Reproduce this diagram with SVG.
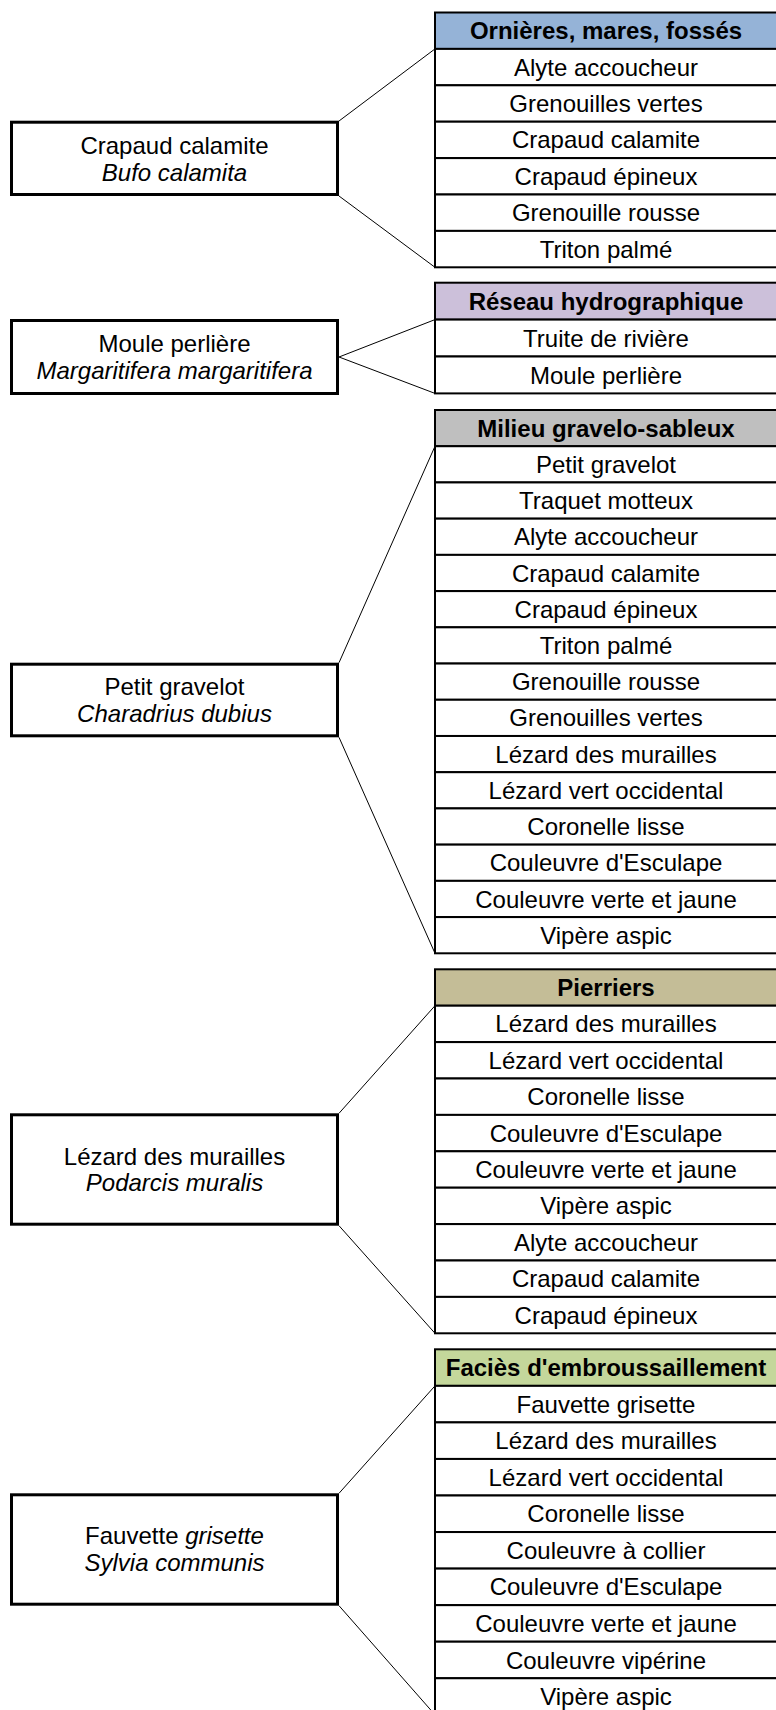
<svg xmlns="http://www.w3.org/2000/svg" width="776" height="1710" viewBox="0 0 776 1710">
<style>
  .bg{fill:#ffffff}
  .box{fill:#ffffff;stroke:#000;stroke-width:3}
  .cell{fill:#ffffff;stroke:#000;stroke-width:2}
  .h1{fill:#95B3D7;stroke:#000;stroke-width:2}
  .h2{fill:#CCC0DA;stroke:#000;stroke-width:2}
  .h3{fill:#BFBFBF;stroke:#000;stroke-width:2}
  .h4{fill:#C4BD97;stroke:#000;stroke-width:2}
  .h5{fill:#C4D79B;stroke:#000;stroke-width:2}
  .conn line{stroke:#000;stroke-width:1}
  text{font-family:"Liberation Sans",Arial,sans-serif;font-size:24px;fill:#000;text-anchor:middle}
  .hd{font-weight:bold}
  .it{font-style:italic}
</style>
<rect class="bg" x="0" y="0" width="776" height="1710"/>

<g id="connectors" class="conn">
  <line x1="339" y1="121" x2="435" y2="48.9"/>
  <line x1="339" y1="196" x2="435" y2="267.3"/>
  <line x1="339" y1="357" x2="435" y2="319.6"/>
  <line x1="339" y1="357" x2="435" y2="393.4"/>
  <line x1="339" y1="662.7" x2="435" y2="446.2"/>
  <line x1="339" y1="737.3" x2="435" y2="953.3"/>
  <line x1="339" y1="1113.3" x2="435" y2="1005.7"/>
  <line x1="339" y1="1225.7" x2="435" y2="1333.3"/>
  <line x1="339" y1="1493.3" x2="435" y2="1385.85"/>
  <line x1="339" y1="1605.7" x2="435" y2="1714.8"/>
</g>

<g id="species-crapaud">
  <rect class="box" x="11.5" y="122.2" width="326" height="72.3"/>
  <text x="174.5" y="154">Crapaud calamite</text>
  <text class="it" x="174.5" y="181">Bufo calamita</text>
</g>
<g id="species-moule">
  <rect class="box" x="11.5" y="320.5" width="326" height="73"/>
  <text x="174.5" y="352">Moule perlière</text>
  <text class="it" x="174.5" y="379">Margaritifera margaritifera</text>
</g>
<g id="species-gravelot">
  <rect class="box" x="11.5" y="664.2" width="326" height="71.6"/>
  <text x="174.5" y="695">Petit gravelot</text>
  <text class="it" x="174.5" y="722">Charadrius dubius</text>
</g>
<g id="species-lezard">
  <rect class="box" x="11.5" y="1114.8" width="326" height="109.4"/>
  <text x="174.5" y="1164.5">Lézard des murailles</text>
  <text class="it" x="174.5" y="1191">Podarcis muralis</text>
</g>
<g id="species-fauvette">
  <rect class="box" x="11.5" y="1494.8" width="326" height="109.4"/>
  <text x="174.5" y="1544"><tspan>Fauvette </tspan><tspan class="it">grisette</tspan></text>
  <text class="it" x="174.5" y="1571">Sylvia communis</text>
</g>

<g id="table-ornieres">
  <rect class="h1" x="435" y="12.5" width="345" height="36.4"/>
  <rect class="cell" x="435" y="48.9" width="345" height="36.4"/>
  <rect class="cell" x="435" y="85.3" width="345" height="36.4"/>
  <rect class="cell" x="435" y="121.7" width="345" height="36.4"/>
  <rect class="cell" x="435" y="158.1" width="345" height="36.4"/>
  <rect class="cell" x="435" y="194.5" width="345" height="36.4"/>
  <rect class="cell" x="435" y="230.9" width="345" height="36.4"/>
  <text class="hd" x="606" y="39.2">Ornières, mares, fossés</text>
  <text x="606" y="75.6">Alyte accoucheur</text>
  <text x="606" y="112">Grenouilles vertes</text>
  <text x="606" y="148.4">Crapaud calamite</text>
  <text x="606" y="184.8">Crapaud épineux</text>
  <text x="606" y="221.2">Grenouille rousse</text>
  <text x="606" y="257.6">Triton palmé</text>
</g>

<g id="table-reseau">
  <rect class="h2" x="435" y="282.7" width="345" height="36.9"/>
  <rect class="cell" x="435" y="319.6" width="345" height="36.9"/>
  <rect class="cell" x="435" y="356.5" width="345" height="36.9"/>
  <text class="hd" x="606" y="309.6">Réseau hydrographique</text>
  <text x="606" y="346.5">Truite de rivière</text>
  <text x="606" y="383.5">Moule perlière</text>
</g>

<g id="table-gravelo">
  <rect class="h3" x="435" y="410" width="345" height="36.22"/>
  <rect class="cell" x="435" y="446.22" width="345" height="36.22"/>
  <rect class="cell" x="435" y="482.44" width="345" height="36.22"/>
  <rect class="cell" x="435" y="518.66" width="345" height="36.22"/>
  <rect class="cell" x="435" y="554.88" width="345" height="36.22"/>
  <rect class="cell" x="435" y="591.1" width="345" height="36.22"/>
  <rect class="cell" x="435" y="627.32" width="345" height="36.22"/>
  <rect class="cell" x="435" y="663.54" width="345" height="36.22"/>
  <rect class="cell" x="435" y="699.76" width="345" height="36.22"/>
  <rect class="cell" x="435" y="735.98" width="345" height="36.22"/>
  <rect class="cell" x="435" y="772.2" width="345" height="36.22"/>
  <rect class="cell" x="435" y="808.42" width="345" height="36.22"/>
  <rect class="cell" x="435" y="844.64" width="345" height="36.22"/>
  <rect class="cell" x="435" y="880.86" width="345" height="36.22"/>
  <rect class="cell" x="435" y="917.08" width="345" height="36.22"/>
  <text class="hd" x="606" y="436.6">Milieu gravelo-sableux</text>
  <text x="606" y="472.8">Petit gravelot</text>
  <text x="606" y="509.1">Traquet motteux</text>
  <text x="606" y="545.3">Alyte accoucheur</text>
  <text x="606" y="581.5">Crapaud calamite</text>
  <text x="606" y="617.7">Crapaud épineux</text>
  <text x="606" y="653.9">Triton palmé</text>
  <text x="606" y="690.2">Grenouille rousse</text>
  <text x="606" y="726.4">Grenouilles vertes</text>
  <text x="606" y="762.6">Lézard des murailles</text>
  <text x="606" y="798.8">Lézard vert occidental</text>
  <text x="606" y="835">Coronelle lisse</text>
  <text x="606" y="871.3">Couleuvre d'Esculape</text>
  <text x="606" y="907.5">Couleuvre verte et jaune</text>
  <text x="606" y="943.7">Vipère aspic</text>
</g>

<g id="table-pierriers">
  <rect class="h4" x="435" y="969.3" width="345" height="36.4"/>
  <rect class="cell" x="435" y="1005.7" width="345" height="36.4"/>
  <rect class="cell" x="435" y="1042.1" width="345" height="36.4"/>
  <rect class="cell" x="435" y="1078.5" width="345" height="36.4"/>
  <rect class="cell" x="435" y="1114.9" width="345" height="36.4"/>
  <rect class="cell" x="435" y="1151.3" width="345" height="36.4"/>
  <rect class="cell" x="435" y="1187.7" width="345" height="36.4"/>
  <rect class="cell" x="435" y="1224.1" width="345" height="36.4"/>
  <rect class="cell" x="435" y="1260.5" width="345" height="36.4"/>
  <rect class="cell" x="435" y="1296.9" width="345" height="36.4"/>
  <text class="hd" x="606" y="996">Pierriers</text>
  <text x="606" y="1032.4">Lézard des murailles</text>
  <text x="606" y="1068.8">Lézard vert occidental</text>
  <text x="606" y="1105.2">Coronelle lisse</text>
  <text x="606" y="1141.6">Couleuvre d'Esculape</text>
  <text x="606" y="1178">Couleuvre verte et jaune</text>
  <text x="606" y="1214.4">Vipère aspic</text>
  <text x="606" y="1250.8">Alyte accoucheur</text>
  <text x="606" y="1287.2">Crapaud calamite</text>
  <text x="606" y="1323.6">Crapaud épineux</text>
</g>

<g id="table-facies">
  <rect class="h5" x="435" y="1349.3" width="345" height="36.55"/>
  <rect class="cell" x="435" y="1385.85" width="345" height="36.55"/>
  <rect class="cell" x="435" y="1422.4" width="345" height="36.55"/>
  <rect class="cell" x="435" y="1458.95" width="345" height="36.55"/>
  <rect class="cell" x="435" y="1495.5" width="345" height="36.55"/>
  <rect class="cell" x="435" y="1532.05" width="345" height="36.55"/>
  <rect class="cell" x="435" y="1568.6" width="345" height="36.55"/>
  <rect class="cell" x="435" y="1605.15" width="345" height="36.55"/>
  <rect class="cell" x="435" y="1641.7" width="345" height="36.55"/>
  <rect class="cell" x="435" y="1678.25" width="345" height="36.55"/>
  <text class="hd" x="606" y="1376.1">Faciès d'embroussaillement</text>
  <text x="606" y="1412.6">Fauvette grisette</text>
  <text x="606" y="1449.2">Lézard des murailles</text>
  <text x="606" y="1485.7">Lézard vert occidental</text>
  <text x="606" y="1522.3">Coronelle lisse</text>
  <text x="606" y="1558.8">Couleuvre à collier</text>
  <text x="606" y="1595.4">Couleuvre d'Esculape</text>
  <text x="606" y="1631.9">Couleuvre verte et jaune</text>
  <text x="606" y="1668.5">Couleuvre vipérine</text>
  <text x="606" y="1705">Vipère aspic</text>
</g>
</svg>
